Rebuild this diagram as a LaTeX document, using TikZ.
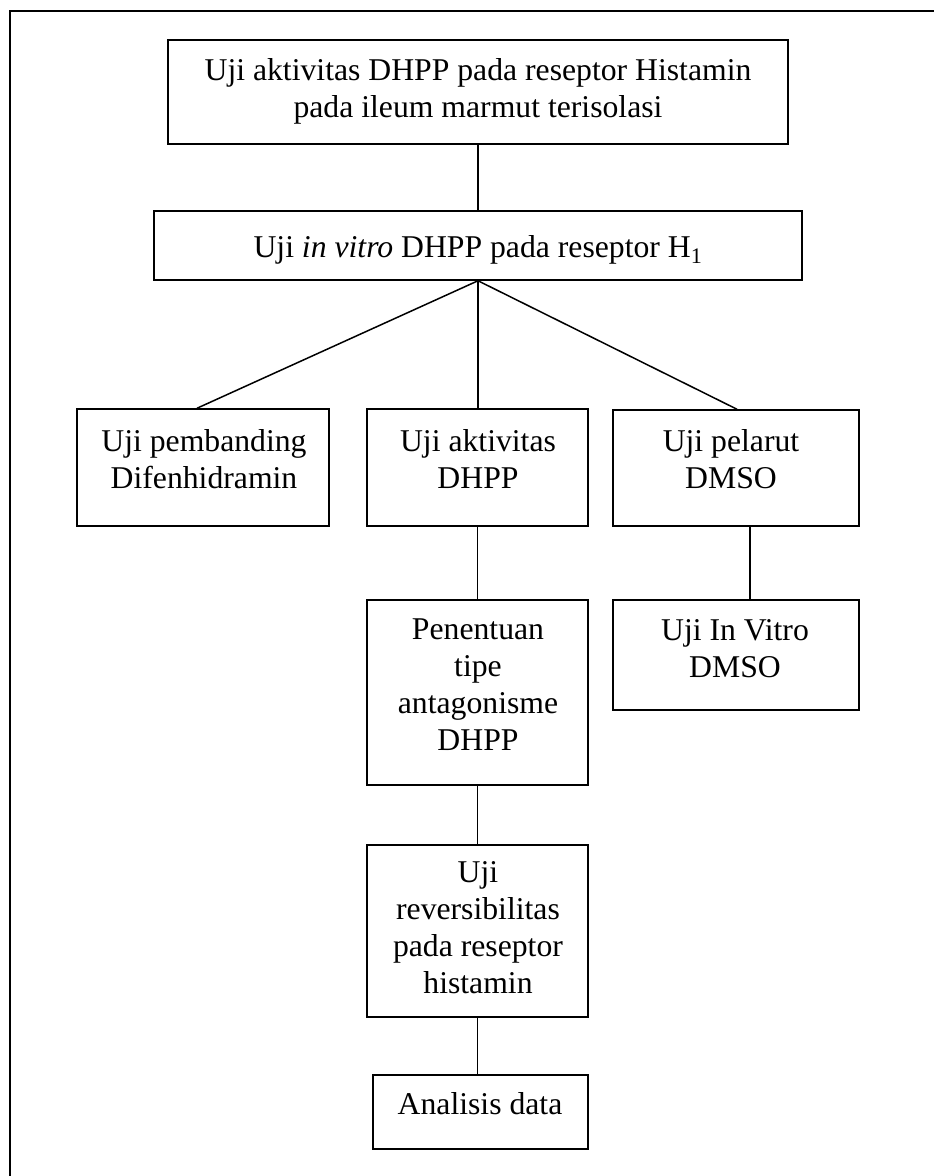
\documentclass[tikz,border=0pt]{standalone}
\usepackage{fontspec}
\setmainfont{Liberation Serif}
\usetikzlibrary{calc}
\begin{document}
\begin{tikzpicture}[x=1pt,y=-1pt,
  box/.style={draw, line width=1.5pt, inner sep=0pt, rectangle},
  txt/.style={inner sep=0pt, align=center, anchor=base, font=\fontsize{31.7}{36.8}\selectfont},
  conn/.style={line width=1.5pt}]
\useasboundingbox (0,0) rectangle (934,1176);
% outer frame (cropped)
\draw[line width=2.2pt] (10,1176) -- (10,11) -- (934,11);
% boxes
\node[box, minimum width=620pt, minimum height=104pt] (top) at (478,92) {};
\node[box, minimum width=648pt, minimum height=69pt] (sec) at (478,245.5) {};
\node[box, minimum width=252pt, minimum height=117pt] (dif) at (203,467.5) {};
\node[box, minimum width=221pt, minimum height=117pt] (akt) at (477.5,467.5) {};
\node[box, minimum width=246pt, minimum height=116pt] (pel) at (736,468) {};
\node[box, minimum width=246pt, minimum height=110pt] (ivd) at (736,655) {};
\node[box, minimum width=221pt, minimum height=185pt] (pen) at (477.5,692.5) {};
\node[box, minimum width=221pt, minimum height=172pt] (rev) at (477.5,931) {};
\node[box, minimum width=215pt, minimum height=74pt] (ana) at (480.5,1112) {};
% texts (anchor base = baseline of the last line)
\node[txt] (topt) at (478,117) {Uji aktivitas DHPP pada reseptor Histamin\\pada ileum marmut terisolasi};
\node[txt] (sect) at (478,257) {Uji \textit{in vitro} DHPP pada reseptor H\textsubscript{1}};
\node[txt] (dift) at (204,488) {Uji pembanding\\Difenhidramin};
\node[txt] (aktt) at (478,488) {Uji aktivitas\\DHPP};
\node[txt] (pelt) at (731,488) {Uji pelarut\\DMSO};
\node[txt] (ivdt) at (735,677) {Uji In Vitro\\DMSO};
\node[txt] (pent) at (478,750) {Penentuan\\tipe\\antagonisme\\DHPP};
\node[txt] (revt) at (478,993) {Uji\\reversibilitas\\pada reseptor\\histamin};
\node[txt] (anat) at (480,1114) {Analisis data};
% connectors
\draw[conn] (top.south) -- (sec.north);
\draw[conn] (sec.south) -- ([xshift=-6pt]dif.north);
\draw[conn] (sec.south) -- (sec.south |- akt.north);
\draw[conn] (sec.south) -- ([xshift=1pt]pel.north);
\draw[conn] ([xshift=14pt]pel.south) -- ([xshift=14pt]ivd.north);
\draw[conn] (akt.south) -- (pen.north);
\draw[conn] (pen.south) -- (rev.north);
\draw[conn] (rev.south) -- (rev.south |- ana.north);
\end{tikzpicture}
\end{document}
